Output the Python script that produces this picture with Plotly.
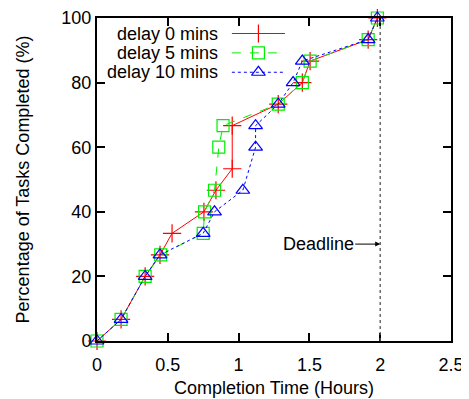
import plotly.graph_objects as go

# Data (completion time in hours, percentage of tasks completed)
x_delay0 = [0, 0.17, 0.34, 0.445, 0.53, 0.755, 0.84, 0.955, 0.955, 1.28, 1.45, 1.505, 1.915, 1.98]
y_delay0 = [0, 6.67, 20, 26.67, 33.33, 40, 46.67, 53.33, 66.67, 73.33, 80, 86.67, 93.33, 100]

x_delay5 = [0, 0.17, 0.34, 0.45, 0.75, 0.76, 0.83, 0.86, 0.89, 1.28, 1.45, 1.505, 1.915, 1.98]
y_delay5 = [0, 6.67, 20, 26.67, 33.33, 40, 46.67, 60, 66.67, 73.33, 80, 86.67, 93.33, 100]

x_delay10 = [0, 0.17, 0.34, 0.445, 0.75, 0.83, 1.03, 1.12, 1.12, 1.28, 1.385, 1.45, 1.915, 1.98]
y_delay10 = [0, 6.67, 20, 26.67, 33.33, 40, 46.67, 60, 66.67, 73.33, 80, 86.67, 93.33, 100]

series_names = ["delay 0 mins", "delay 5 mins", "delay 10 mins"]
x_ticks = [0, 0.5, 1, 1.5, 2, 2.5]
x_ticklabels = ["0", "0.5", "1", "1.5", "2", "2.5"]
y_ticks = [0, 20, 40, 60, 80, 100]
deadline_hours = 2
deadline_label_y = 30

FONT = "Liberation Sans, Arial, sans-serif"
FS = 18
styles = [
    dict(color="#ff0000", dash="solid", symbol="cross-thin-open", size=13),
    dict(color="#00ee00", dash="dash", symbol="square-open", size=12),
    dict(color="#0000ff", dash="3px,3px", symbol="triangle-up-open", size=12),
]
data = [(x_delay0, y_delay0), (x_delay5, y_delay5), (x_delay10, y_delay10)]

fig = go.Figure()
for (xs, ys), st, name in zip(data, styles, series_names):
    fig.add_trace(go.Scatter(
        x=xs, y=ys, mode="lines+markers", name=name, showlegend=False,
        cliponaxis=False,
        line=dict(color=st["color"], width=1, dash=st["dash"]),
        marker=dict(symbol=st["symbol"], size=st["size"], color=st["color"],
                    line=dict(color=st["color"], width=1.2)),
    ))

# Custom legend (text right, sample on right side) on an overlay axis
leg_rows = [0.952, 0.892, 0.832]
leg_line_x = [0.381, 0.531]
leg_marker_x = 0.456
for row, st, name in zip(leg_rows, styles, series_names):
    fig.add_trace(go.Scatter(
        x=leg_line_x, y=[row, row], xaxis="x2", yaxis="y2", mode="lines",
        showlegend=False, hoverinfo="skip",
        line=dict(color=st["color"], width=1, dash=st["dash"]),
    ))
    fig.add_trace(go.Scatter(
        x=[leg_marker_x], y=[row], xaxis="x2", yaxis="y2", mode="markers",
        showlegend=False, hoverinfo="skip",
        marker=dict(symbol=st["symbol"], size=st["size"], color=st["color"],
                    line=dict(color=st["color"], width=1.2)),
    ))
    fig.add_annotation(x=0.345, y=row, xref="x2", yref="y2", text=name,
                       showarrow=False, xanchor="right", yanchor="middle",
                       borderpad=0,
                       font=dict(family=FONT, size=FS, color="black"))

# Deadline line
fig.add_shape(type="line", x0=deadline_hours, x1=deadline_hours, y0=0, y1=1,
              xref="x", yref="paper", line=dict(color="#555555", width=1.3, dash="dot"))
fig.add_annotation(x=deadline_hours, y=deadline_label_y, xref="x", yref="y",
                   text="Deadline", showarrow=True, ax=-62, ay=0,
                   arrowhead=2, arrowsize=1, arrowwidth=1, arrowcolor="black",
                   font=dict(family=FONT, size=FS, color="black"))

axis_common = dict(showgrid=False, zeroline=False, showline=True, linecolor="black",
                   linewidth=2, mirror="ticks", ticks="inside", ticklen=8,
                   tickwidth=1.5, tickcolor="black", automargin=False,
                   tickfont=dict(family=FONT, size=FS, color="black"))
# The page body has an 8px margin, so the figure is sized/offset to compensate.
fig.update_layout(
    width=461, height=391,
    margin=dict(l=89, r=18, t=10, b=58),
    plot_bgcolor="white", paper_bgcolor="white",
    font=dict(family=FONT, size=FS, color="black"),
    xaxis=dict(range=[0, 2.5], tickvals=x_ticks, ticktext=x_ticklabels,
               ticklabelstandoff=6,
               title=dict(text="Completion Time (Hours)", standoff=8,
                          font=dict(family=FONT, size=FS)), **axis_common),
    yaxis=dict(range=[0, 100], tickvals=y_ticks,
               title=dict(text="Percentage of Tasks Completed (%)", standoff=27,
                          font=dict(family=FONT, size=FS)), **axis_common),
    xaxis2=dict(overlaying="x", range=[0, 1], visible=False),
    yaxis2=dict(overlaying="y", range=[0, 1], visible=False),
)

fig.write_html("out.html")
